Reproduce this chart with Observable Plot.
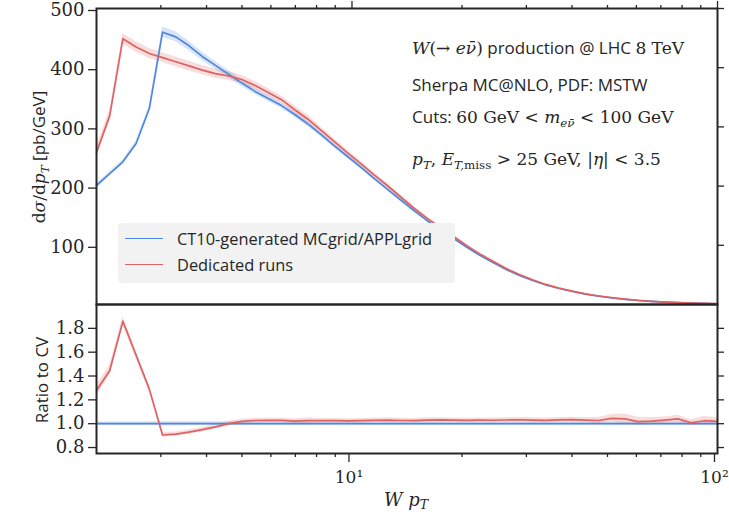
<!DOCTYPE html>
<html><head><meta charset="utf-8">
<script src="https://cdn.jsdelivr.net/npm/d3@7"></script>
<script src="https://cdn.jsdelivr.net/npm/@observablehq/plot@0.6"></script>
<style>
body{margin:0;background:#fff;}
#fig{position:relative;width:729px;height:521px;overflow:hidden;background:#fff;}
#fig svg{position:absolute;left:0;top:0;}
.t{position:absolute;white-space:nowrap;font-family:"Open Sans",sans-serif;font-size:16.4px;color:#262626;line-height:20px;}
.a{font-size:17px;}
.m{font-family:"DejaVu Serif",serif;font-style:italic;}
.r{font-family:"DejaVu Serif",serif;font-style:normal;}
.sb{font-size:70%;vertical-align:-0.3em;}
</style></head><body><div id="fig"></div>
<script>
// ---- data ----
const pT = [2.000, 2.174, 2.362, 2.567, 2.790, 3.032, 3.296, 3.582, 3.893, 4.231, 4.598, 4.997, 5.431, 5.902, 6.415, 6.972, 7.577, 8.235, 8.950, 9.725, 10.57, 11.49, 12.49, 13.57, 14.75, 16.03, 17.42, 18.93, 20.57, 22.36, 24.30, 26.41, 28.70, 31.19, 33.90, 36.84, 40.04, 43.51, 47.29, 51.39, 55.85, 60.70, 65.96, 71.69, 77.91, 84.68, 92.03, 100.0];
const ct10 = [201, 221, 241, 272, 331, 460, 452, 437, 419, 404, 389, 374, 360, 348, 336, 321, 305, 287, 268, 250, 232, 213, 195, 177, 159, 142, 126, 112, 97, 83, 71, 59, 49, 40.5, 33, 27, 22, 17.5, 14, 11, 8.7, 6.8, 5.2, 4.0, 3.1, 2.3, 1.8, 1.3];
const dedicated = [257, 319, 449, 435, 424, 417, 410, 403, 396, 390, 386, 380, 370, 358, 346, 329, 313, 294, 275, 256, 238, 219, 201, 182, 163, 146, 130, 115.4, 99.7, 85.5, 73.1, 60.8, 50.6, 41.7, 33.9, 27.9, 22.7, 18.0, 14.4, 11.5, 9.05, 6.9, 5.3, 4.1, 3.2, 2.3, 1.85, 1.33];
const ratioDedicated = [1.278, 1.447, 1.86, 1.575, 1.29, 0.905, 0.912, 0.93, 0.95, 0.973, 1.0, 1.019, 1.027, 1.028, 1.028, 1.022, 1.025, 1.026, 1.025, 1.024, 1.025, 1.028, 1.03, 1.027, 1.026, 1.03, 1.032, 1.03, 1.028, 1.03, 1.029, 1.031, 1.033, 1.03, 1.028, 1.032, 1.034, 1.03, 1.027, 1.045, 1.04, 1.018, 1.022, 1.03, 1.04, 1.008, 1.025, 1.02];
const ct10RelErr = [0.015, 0.015, 0.015, 0.015, 0.016, 0.019, 0.019, 0.018, 0.017, 0.016, 0.016, 0.015, 0.015, 0.015, 0.015, 0.015, 0.015, 0.014, 0.014, 0.014, 0.014, 0.014, 0.014, 0.014, 0.014, 0.014, 0.014, 0.014, 0.014, 0.014, 0.014, 0.014, 0.014, 0.014, 0.014, 0.014, 0.014, 0.014, 0.014, 0.014, 0.014, 0.014, 0.014, 0.014, 0.014, 0.014, 0.014, 0.014];
const dedicatedRelErr = [0.035, 0.03, 0.02, 0.02, 0.02, 0.02, 0.02, 0.02, 0.02, 0.02, 0.02, 0.018, 0.018, 0.018, 0.018, 0.02, 0.022, 0.018, 0.018, 0.018, 0.018, 0.018, 0.02, 0.018, 0.018, 0.02, 0.018, 0.018, 0.018, 0.018, 0.018, 0.018, 0.02, 0.02, 0.02, 0.02, 0.02, 0.02, 0.025, 0.03, 0.04, 0.035, 0.03, 0.025, 0.03, 0.025, 0.035, 0.03];
const seriesNames = ["CT10-generated MCgrid/APPLgrid", "Dedicated runs"];
const seriesColors = ["#4f86e0", "#de6262"];
const mainYTicks = [100, 200, 300, 400, 500];
const ratioYTicks = [0.8, 1.0, 1.2, 1.4, 1.6, 1.8];
const xMajorTicks = [10, 100];
const xMajorLabels = ["10¹", "10²"];
const xMinorTicks = [3, 4, 5, 6, 7, 8, 9, 20, 30, 40, 50, 60, 70, 80, 90];

// ---- tables ----
const mainRows = [];
const ratioRows = [];
pT.forEach((x, i) => {
  mainRows.push({x, series: seriesNames[0], y: ct10[i], lo: ct10[i]*(1-ct10RelErr[i]), hi: ct10[i]*(1+ct10RelErr[i])});
  ratioRows.push({x, series: seriesNames[0], y: 1, lo: 1-ct10RelErr[i], hi: 1+ct10RelErr[i]});
});
pT.forEach((x, i) => {
  mainRows.push({x, series: seriesNames[1], y: dedicated[i], lo: dedicated[i]*(1-dedicatedRelErr[i]), hi: dedicated[i]*(1+dedicatedRelErr[i])});
  const r = ratioDedicated[i];
  ratioRows.push({x, series: seriesNames[1], y: r, lo: r*(1-dedicatedRelErr[i]), hi: r*(1+dedicatedRelErr[i])});
});

const W = 729, H = 521;
const ink = "#262626";
const common = {
  width: W, height: H, marginLeft: 96, marginRight: 12,
  style: {background: "transparent", fontFamily: "DejaVu Serif", fontSize: "18px", color: ink, overflow: "visible"},
  x: {type: "log", domain: [2, 100]},
  color: {domain: seriesNames, range: seriesColors}
};
const tickStyle = {stroke: ink, strokeWidth: 1.3, label: null};

const topPlot = Plot.plot({
  ...common, marginTop: 8, marginBottom: H - 304,
  y: {domain: [0, 500]},
  marks: [
    Plot.areaY(mainRows, {x: "x", y1: "lo", y2: "hi", fill: "series", z: "series", fillOpacity: 0.22}),
    Plot.lineY(mainRows, {x: "x", y: "y", stroke: "series", z: "series", strokeWidth: 1.7}),
    Plot.axisY(mainYTicks, {anchor: "left", tickSize: 8, tickPadding: 4, dy: 2, tickFormat: d => String(d), ...tickStyle}),
    Plot.axisY(mainYTicks, {anchor: "right", tickSize: 6, tickFormat: () => "", ...tickStyle}),
    Plot.axisX(xMajorTicks, {anchor: "top", tickSize: 8, tickFormat: () => "", ...tickStyle}),
    Plot.axisX(xMinorTicks, {anchor: "top", tickSize: 4, tickFormat: () => "", ...tickStyle}),
    Plot.frame({stroke: ink, strokeWidth: 2})
  ]
});

const bottomPlot = Plot.plot({
  ...common, marginTop: 304, marginBottom: H - 453,
  y: {domain: [0.75, 2.0]},
  marks: [
    Plot.areaY(ratioRows, {x: "x", y1: "lo", y2: "hi", fill: "series", z: "series", fillOpacity: 0.22}),
    Plot.lineY(ratioRows, {x: "x", y: "y", stroke: "series", z: "series", strokeWidth: 1.7}),
    Plot.axisY(ratioYTicks, {anchor: "left", tickSize: 8, tickPadding: 4, tickFormat: d3.format(".1f"), ...tickStyle}),
    Plot.axisY(ratioYTicks, {anchor: "right", tickSize: 6, tickFormat: () => "", ...tickStyle}),
    Plot.axisX(xMajorTicks, {anchor: "bottom", tickSize: 9, tickPadding: 8, dx: -3, fontSize: 17, tickFormat: d => xMajorLabels[xMajorTicks.indexOf(d)], ...tickStyle}),
    Plot.axisX(xMinorTicks, {anchor: "bottom", tickSize: 4, tickFormat: () => "", ...tickStyle}),
    Plot.frame({stroke: ink, strokeWidth: 2})
  ]
});

const fig = document.getElementById("fig");
fig.appendChild(topPlot);
fig.appendChild(bottomPlot);

function addText(html, left, top, extra, cls) {
  const d = document.createElement("div");
  d.className = "t" + (cls ? " " + cls : "");
  d.innerHTML = html;
  d.style.left = left + "px";
  d.style.top = top + "px";
  if (extra) Object.assign(d.style, extra);
  fig.appendChild(d);
  return d;
}

// annotations
addText('<span class="m">W</span><span class="r">(→ </span><span class="m">eν̄</span><span class="r">)</span> production @ LHC <span class="r">8 TeV</span>', 412, 38, null, "a");
addText('Sherpa MC@NLO, PDF: MSTW', 412, 75, null, "a");
addText('Cuts: <span class="r">60 GeV &lt; </span><span class="m">m<span class="sb">eν̄</span></span><span class="r"> &lt; 100 GeV</span>', 412, 107, null, "a");
addText('<span class="m">p<span class="sb">T</span></span><span class="r">, </span><span class="m">E<span class="sb">T,<span class="r">miss</span></span></span><span class="r"> &gt; 25 GeV, |</span><span class="m">η</span><span class="r">| &lt; 3.5</span>', 412, 149, null, "a");

// axis labels
addText('<span class="r">d</span><span class="m">σ</span><span class="r">/d</span><span class="m">p<span class="sb">T</span></span> [pb/GeV]', 42, 157, {transform: "translate(-50%,-50%) rotate(-90deg)", fontSize: "17px"});
addText('Ratio to CV', 42, 380, {transform: "translate(-50%,-50%) rotate(-90deg)", fontSize: "17px"});
addText('<span class="m">W p<span class="sb">T</span></span>', 406, 502, {transform: "translate(-50%,-50%)", fontSize: "18px"});

// legend
const leg = document.createElement("div");
Object.assign(leg.style, {position: "absolute", left: "118px", top: "223px", width: "337px", height: "60px", background: "#f2f2f2", borderRadius: "4px"});
fig.appendChild(leg);
seriesNames.forEach((name, i) => {
  const ln = document.createElement("div");
  Object.assign(ln.style, {position: "absolute", left: "125px", top: (239 + 26*i - 1) + "px", width: "38px", height: "0", borderTop: "1.7px solid " + seriesColors[i]});
  fig.appendChild(ln);
  addText(name, 177, 229 + 26*i);
});
</script></body></html>
